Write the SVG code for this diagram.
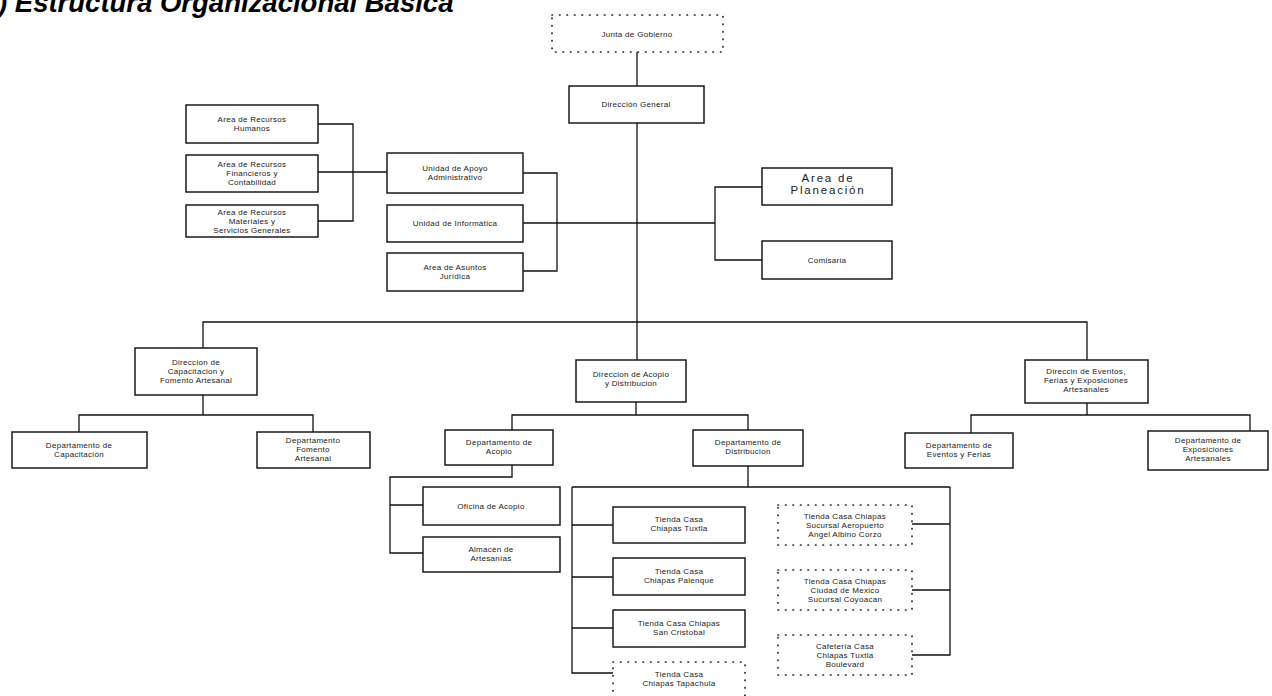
<svg xmlns="http://www.w3.org/2000/svg" width="1272" height="696" viewBox="0 0 1272 696">
<style>
.box{fill:#fff;stroke:#1a1a1a;stroke-width:1.5}
.dot{fill:#fff;stroke:#222;stroke-width:1.7;stroke-dasharray:0.5 7;stroke-linecap:round}
.t{font-family:"Liberation Sans",Arial,sans-serif;font-size:8px;fill:#222;text-anchor:middle;letter-spacing:0.3px}
.big{font-family:"Liberation Sans",Arial,sans-serif;font-size:11.5px;fill:#222;text-anchor:middle;letter-spacing:1.8px}
.title{font-family:"Liberation Sans",Arial,sans-serif;font-size:27.5px;font-weight:bold;font-style:italic;fill:#000}
#connectors path{fill:none;stroke:#111;stroke-width:1.3}
</style>
<rect width="1272" height="696" fill="#fff"/>
<text class="title" x="-2" y="12">) Estructura Organizacional Basica</text>

<g id="connectors">
<path d="M637,52V86M637,123V360"/>
<path d="M523,223H715M523,173H557V271H523M762,187H715V260H762"/>
<path d="M318,124H353V221H318M318,172H387"/>
<path d="M203,348V322H1087V360"/>
<path d="M203,395V415M79,432V415H313V432"/>
<path d="M636,402V415M512,430V415H748V430"/>
<path d="M512,465V477H390V553H423M390,505H423"/>
<path d="M748,466V487M572,487H950M572,487V673H613M572,525H613M572,577H613M572,628H613"/>
<path d="M950,487V655H912M950,590H912M950,524H912"/>
<path d="M1087,403V415M971,433V415H1250V431"/>
</g>

<g id="junta"><rect class="dot" x="552" y="15" width="171" height="37"/><text class="t" x="637" y="37">Junta de Gobierno</text></g>
<g id="dg"><rect class="box" x="569" y="86" width="135" height="37"/><text class="t" x="636" y="107">Dirección General</text></g>

<g id="rh"><rect class="box" x="186" y="105" width="132" height="38"/><text class="t" x="252" y="122">Area de Recursos<tspan x="252" dy="9">Humanos</tspan></text></g>
<g id="rf"><rect class="box" x="186" y="155" width="132" height="37"/><text class="t" x="252" y="167">Area de Recursos<tspan x="252" dy="9">Financieros y</tspan><tspan x="252" dy="9">Contabilidad</tspan></text></g>
<g id="rm"><rect class="box" x="186" y="205" width="132" height="32"/><text class="t" x="252" y="215">Area de Recursos<tspan x="252" dy="9">Materiales y</tspan><tspan x="252" dy="9">Servicios Generales</tspan></text></g>

<g id="uaa"><rect class="box" x="387" y="153" width="136" height="40"/><text class="t" x="455" y="171">Unidad de Apoyo<tspan x="455" dy="9">Administrativo</tspan></text></g>
<g id="ui"><rect class="box" x="387" y="205" width="136" height="37"/><text class="t" x="455" y="226">Unidad de Informática</text></g>
<g id="aaj"><rect class="box" x="387" y="253" width="136" height="38"/><text class="t" x="455" y="270">Area de Asuntos<tspan x="455" dy="9">Jurídica</tspan></text></g>

<g id="ap"><rect class="box" x="762" y="168" width="130" height="37"/><text class="big" x="828" y="182">Area de<tspan x="828" dy="12">Planeación</tspan></text></g>
<g id="com"><rect class="box" x="762" y="241" width="130" height="38"/><text class="t" x="827" y="263">Comisaria</text></g>

<g id="dcap"><rect class="box" x="135" y="348" width="122" height="47"/><text class="t" x="196" y="365">Direccion de<tspan x="196" dy="9">Capacitacion y</tspan><tspan x="196" dy="9">Fomento Artesanal</tspan></text></g>
<g id="dad"><rect class="box" x="576" y="360" width="110" height="42"/><text class="t" x="631" y="377">Direccion de Acopio<tspan x="631" dy="9">y Distribucion</tspan></text></g>
<g id="dev"><rect class="box" x="1025" y="360" width="123" height="43"/><text class="t" x="1086" y="374">Direccin de Eventos,<tspan x="1086" dy="9">Ferias y Exposiciones</tspan><tspan x="1086" dy="9">Artesanales</tspan></text></g>

<g id="dcp"><rect class="box" x="12" y="432" width="135" height="36"/><text class="t" x="79" y="448">Departamento de<tspan x="79" dy="9">Capacitación</tspan></text></g>
<g id="dfa"><rect class="box" x="257" y="432" width="113" height="36"/><text class="t" x="313" y="443">Departamento<tspan x="313" dy="9">Fomento</tspan><tspan x="313" dy="9">Artesanal</tspan></text></g>
<g id="dac"><rect class="box" x="445" y="430" width="108" height="35"/><text class="t" x="499" y="445">Departamento de<tspan x="499" dy="9">Acopio</tspan></text></g>
<g id="ddi"><rect class="box" x="693" y="430" width="110" height="36"/><text class="t" x="748" y="445">Departamento de<tspan x="748" dy="9">Distribucion</tspan></text></g>
<g id="dfe"><rect class="box" x="905" y="433" width="108" height="35"/><text class="t" x="959" y="448">Departamento de<tspan x="959" dy="9">Eventos y  Ferias</tspan></text></g>
<g id="dex"><rect class="box" x="1148" y="431" width="120" height="39"/><text class="t" x="1208" y="443">Departamento de<tspan x="1208" dy="9">Exposiciones</tspan><tspan x="1208" dy="9">Artesanales</tspan></text></g>

<g id="oa"><rect class="box" x="423" y="487" width="137" height="38"/><text class="t" x="491" y="509">Oficina de Acopio</text></g>
<g id="alm"><rect class="box" x="423" y="537" width="137" height="35"/><text class="t" x="491" y="552">Almacén de<tspan x="491" dy="9">Artesanías</tspan></text></g>

<g id="t1"><rect class="box" x="613" y="507" width="132" height="36"/><text class="t" x="679" y="522">Tienda Casa<tspan x="679" dy="9">Chiapas Tuxtla</tspan></text></g>
<g id="t2"><rect class="box" x="613" y="558" width="132" height="37"/><text class="t" x="679" y="574">Tienda Casa<tspan x="679" dy="9">Chiapas Palenque</tspan></text></g>
<g id="t3"><rect class="box" x="613" y="610" width="132" height="37"/><text class="t" x="679" y="626">Tienda Casa Chiapas<tspan x="679" dy="9">San Cristobal</tspan></text></g>
<g id="t4"><rect class="dot" x="613" y="662" width="132" height="40"/><text class="t" x="679" y="677">Tienda Casa<tspan x="679" dy="9">Chiapas Tapachula</tspan></text></g>

<g id="r1"><rect class="dot" x="778" y="505" width="134" height="40"/><text class="t" x="845" y="519">Tienda Casa Chiapas<tspan x="845" dy="9">Sucursal Aeropuerto</tspan><tspan x="845" dy="9">Angel Albino Corzo</tspan></text></g>
<g id="r2"><rect class="dot" x="778" y="570" width="134" height="40"/><text class="t" x="845" y="584">Tienda Casa Chiapas<tspan x="845" dy="9">Ciudad de Mexico</tspan><tspan x="845" dy="9">Sucursal Coyoacan</tspan></text></g>
<g id="r3"><rect class="dot" x="778" y="635" width="134" height="40"/><text class="t" x="845" y="649">Cafetería Casa<tspan x="845" dy="9">Chiapas Tuxtla</tspan><tspan x="845" dy="9">Boulevard</tspan></text></g>
</svg>
